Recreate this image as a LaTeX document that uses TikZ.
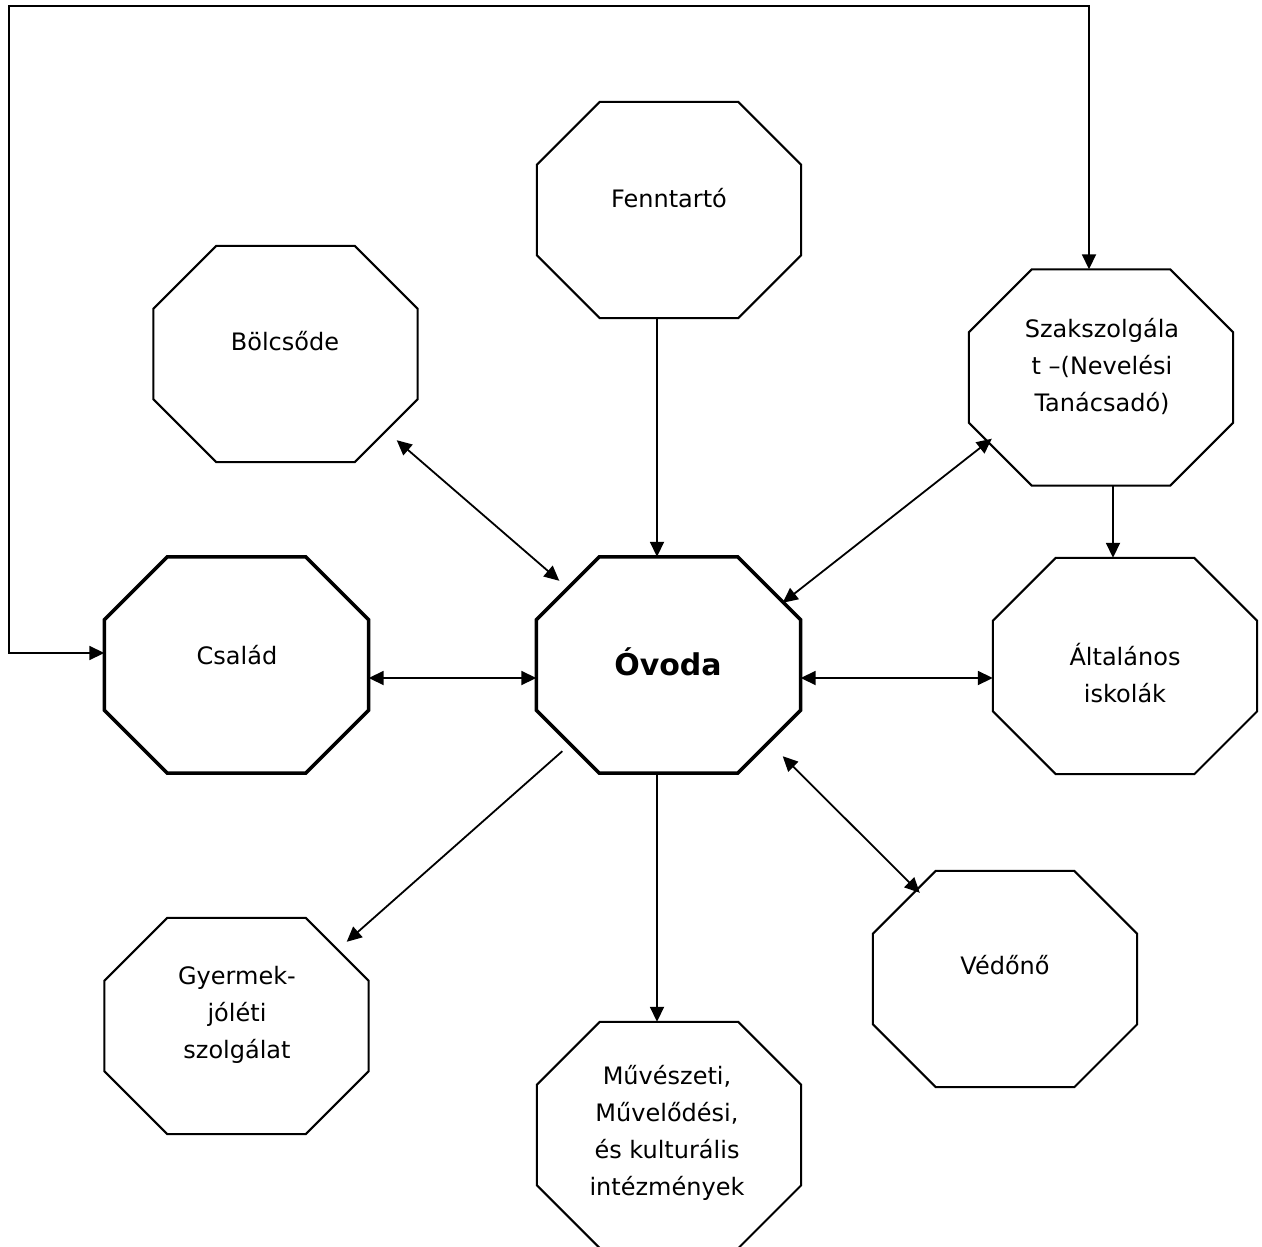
\documentclass[tikz,border=0pt]{standalone}
\usepackage{fontspec}
\setmainfont{DejaVu Sans}
\usetikzlibrary{arrows.meta,calc}
\begin{document}
\begin{tikzpicture}[x=1pt,y=-1pt,
  oct/.style={rectangle, minimum width=264pt, minimum height=216pt, inner sep=0pt},
  txt/.style={align=center, font=\fontsize{24}{37}\selectfont, inner sep=0pt},
  bigtxt/.style={font=\fontsize{30}{36}\selectfont\bfseries, inner sep=0pt},
  thinline/.style={line width=2pt},
  thickline/.style={line width=3.5pt},
  con/.style={line width=1.8pt, -{Triangle[length=15pt,width=14pt]}},
  bicon/.style={line width=1.8pt, {Triangle[length=15pt,width=14pt]}-{Triangle[length=15pt,width=14pt]}}]
\useasboundingbox (0,0) rectangle (1262,1247);
% octagon frames (named nodes)
\node[oct] (fen)  at (669,210) {};
\node[oct] (bol)  at (285.5,354) {};
\node[oct] (szak) at (1101,377.5) {};
\node[oct] (csa)  at (236.5,665) {};
\node[oct] (ovo)  at (668.5,665) {};
\node[oct] (alt)  at (1125,666) {};
\node[oct] (ved)  at (1005,979) {};
\node[oct] (gye)  at (236.5,1026) {};
\node[oct, minimum height=226pt] (mu) at (669,1135) {};
\foreach \n/\s in {fen/thinline,bol/thinline,szak/thinline,csa/thickline,ovo/thickline,alt/thinline,ved/thinline,gye/thinline,mu/thinline}
  \draw[\s] ($(\n.north west)+(63pt,0pt)$) -- ($(\n.north east)+(-63pt,0pt)$)
    -- ($(\n.north east)+(0pt,-63pt)$) -- ($(\n.south east)+(0pt,63pt)$)
    -- ($(\n.south east)+(-63pt,0pt)$) -- ($(\n.south west)+(63pt,0pt)$)
    -- ($(\n.south west)+(0pt,63pt)$) -- ($(\n.north west)+(0pt,-63pt)$) -- cycle;
% texts
\node[txt] (fen-t)  at (669,198) {Fenntartó};
\node[txt] (bol-t)  at (285,341) {Bölcsőde};
\node[txt] (szak-t) at (1102,366) {Szakszolgála\\t –(Nevelési\\Tanácsadó)};
\node[txt] (csa-t)  at (237,655) {Család};
\node[bigtxt] (ovo-t) at (668,662) {Óvoda};
\node[txt] (alt-t)  at (1125,673) {Általános\\iskolák};
\node[txt] (ved-t)  at (1005,965) {Védőnő};
\node[txt] (gye-t)  at (237,1015) {Gyermek-\\jóléti\\szolgálat};
\node[txt] (mu-t)   at (667,1133) {Művészeti,\\Művelődési,\\és kulturális\\intézmények};
% connectors
\coordinate (loopcorner) at (9,6);
\draw[bicon] ($(csa.west)+(0pt,12pt)$) -| (loopcorner) -| ($(szak.north)+(-12pt,0pt)$);
\draw[con] ($(fen.south)+(-12pt,0pt)$) -- ($(ovo.north)+(-11.5pt,0pt)$);
\draw[con] ($(ovo.south)+(-11.5pt,0pt)$) -- ($(mu.north)+(-12pt,0pt)$);
\draw[bicon] ($(csa.east)+(0pt,-13pt)$) -- ($(ovo.west)+(0pt,-13pt)$);
\draw[bicon] ($(ovo.east)+(0pt,-13pt)$) -- ($(alt.west)+(0pt,-12pt)$);
\draw[bicon] ($(ovo.north east)+(-18pt,-46pt)$) -- ($(szak.south west)+(23pt,47pt)$);
\draw[con] ($(szak.south)+(12pt,0pt)$) -- ($(alt.north)+(-12pt,0pt)$);
\draw[bicon] ($(ovo.south east)+(-18pt,17pt)$) -- ($(ved.north west)+(47pt,-22pt)$);
\draw[con] ($(ovo.south west)+(26pt,22pt)$) -- ($(gye.north east)+(-22pt,-24pt)$);
\draw[bicon] ($(bol.south east)+(-21pt,22pt)$) -- ($(ovo.north west)+(23pt,-24pt)$);
\end{tikzpicture}
\end{document}
